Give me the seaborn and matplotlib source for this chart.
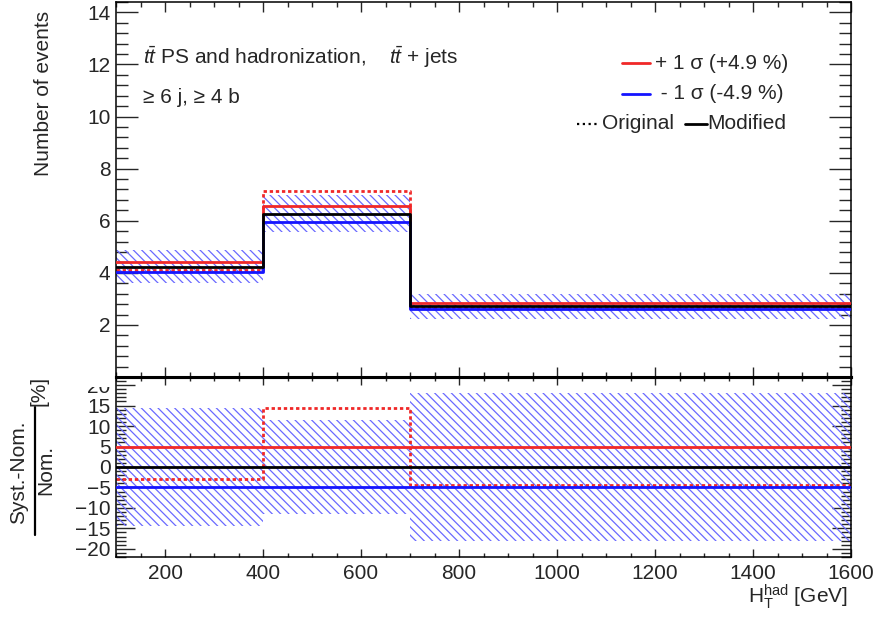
import matplotlib
matplotlib.use("Agg")
import matplotlib.pyplot as plt
from matplotlib.patches import Rectangle
import seaborn as sns

sns.set_theme(style="ticks")
plt.rcParams["font.family"] = ["Liberation Sans", "DejaVu Sans"]
plt.rcParams["mathtext.fontset"] = "custom"
plt.rcParams["mathtext.rm"] = "Liberation Sans"
plt.rcParams["mathtext.it"] = "Liberation Sans:italic"
plt.rcParams["mathtext.bf"] = "Liberation Sans:bold"
plt.rcParams["hatch.linewidth"] = 0.9

# binning in H_T^had [GeV]
bin_edges = [100, 400, 700, 1600]

# upper panel: number of events
nominal = [4.24, 6.27, 2.72]
sys_up = [4.40, 6.58, 2.83]
sys_down = [4.02, 5.97, 2.60]
original = [4.12, 7.16, 2.66]
band_low = [3.62, 5.56, 2.22]
band_high = [4.86, 7.00, 3.18]

# lower panel: (Syst. - Nom.) / Nom. in %
ratio_up = [4.9, 4.9, 4.9]
ratio_down = [-4.9, -4.9, -4.9]
ratio_nominal = [0.0, 0.0, 0.0]
ratio_original = [-3.0, 14.5, -4.3]
ratio_band = [14.5, 11.5, 18.0]

RED = "#f02828"
BLUE = "#1414ff"
HATCH = "#6a6aff"
FS = 15


def steps(vals):
    return list(vals) + [vals[-1]]


def draw_panel(ax, nom, up, down, orig, lo, hi):
    ax.fill_between(bin_edges, steps(lo), steps(hi), step="post",
                    facecolor="none", edgecolor=HATCH, linewidth=0,
                    hatch="\\\\\\\\", zorder=1)
    sns.lineplot(x=bin_edges, y=steps(orig), drawstyle="steps-post", color=RED,
                 lw=2, linestyle=(0, (1.2, 1.0)), estimator=None, ax=ax, zorder=2)
    sns.lineplot(x=bin_edges, y=steps(up), drawstyle="steps-post", color=RED,
                 lw=2, estimator=None, ax=ax, zorder=3)
    sns.lineplot(x=bin_edges, y=steps(down), drawstyle="steps-post", color=BLUE,
                 lw=2, estimator=None, ax=ax, zorder=3)
    sns.lineplot(x=bin_edges, y=steps(nom), drawstyle="steps-post", color="black",
                 lw=2, estimator=None, ax=ax, zorder=4)
    ax.set_xlim(100, 1600)
    ax.set_xlabel("")
    ax.set_ylabel("")
    for s in ax.spines.values():
        s.set_visible(True)
        s.set_linewidth(1.1)
        s.set_color("black")


fig = plt.figure(figsize=(8.77, 6.21), dpi=100)
ax_top = fig.add_axes([0.1323, 0.3929, 0.8381, 0.6039])
ax_bot = fig.add_axes([0.1323, 0.1031, 0.8381, 0.2899])
ax_top.set_zorder(2)

draw_panel(ax_top, nominal, sys_up, sys_down, original, band_low, band_high)
draw_panel(ax_bot, ratio_nominal, ratio_up, ratio_down, ratio_original,
           [-b for b in ratio_band], ratio_band)

# upper panel axes
ax_top.set_ylim(0, 14.4)
ax_top.set_yticks([2, 4, 6, 8, 10, 12, 14])
ax_top.set_yticks([i * 0.4 for i in range(37)], minor=True)
ax_top.set_xticks(range(200, 1601, 200))
ax_top.set_xticks(range(100, 1601, 50), minor=True)
ax_top.tick_params(axis="y", which="major", direction="in", length=16, width=1,
                   right=True, labelsize=FS, pad=4)
ax_top.tick_params(axis="y", which="minor", direction="in", length=8.5, width=1, right=True)
ax_top.tick_params(axis="x", which="major", direction="in", length=7, width=1,
                   top=True, labelbottom=False)
ax_top.tick_params(axis="x", which="minor", direction="in", length=3.6, width=1, top=True)
ax_top.spines["bottom"].set_linewidth(2.2)

# lower panel axes
ax_bot.set_ylim(-22, 22)
ax_bot.set_yticks(range(-20, 21, 5))
ax_bot.set_yticks(range(-22, 23), minor=True)
ax_bot.set_xticks(range(200, 1601, 200))
ax_bot.set_xticks(range(100, 1601, 50), minor=True)
ax_bot.tick_params(axis="y", which="major", direction="in", length=14, width=1,
                   right=True, labelsize=FS, pad=4)
ax_bot.tick_params(axis="y", which="minor", direction="in", length=7, width=1, right=True)
ax_bot.tick_params(axis="x", which="major", direction="in", length=6, width=1,
                   top=True, labelsize=FS, pad=5)
ax_bot.tick_params(axis="x", which="minor", direction="in", length=3, width=1, top=True)
ax_bot.spines["top"].set_linewidth(2.2)

# the "20" label is cut by the upper pad
fig.add_artist(Rectangle((80 / 877, 1 - 387 / 621), 34 / 877, 10 / 621,
                         transform=fig.transFigure, facecolor="white",
                         edgecolor="none", zorder=5))

# axis titles
fig.text(44 / 877, 1 - 93 / 621, "Number of events", rotation=90,
         ha="center", va="center", fontsize=FS)
fig.text(19 / 877, 1 - 472 / 621, "Syst.-Nom.", rotation=90,
         ha="center", va="center", fontsize=FS)
fig.text(46 / 877, 1 - 470 / 621, "Nom.", rotation=90,
         ha="center", va="center", fontsize=FS)
fig.text(39 / 877, 1 - 391 / 621, "[%]", rotation=90,
         ha="center", va="center", fontsize=FS)
fig.add_artist(plt.Line2D([35 / 877, 35 / 877], [1 - 535 / 621, 1 - 407 / 621],
                          color="black", lw=1.6, transform=fig.transFigure))
fig.text(848 / 877, 1 - 603 / 621, r"$\mathrm{H}_{\mathrm{T}}^{\mathrm{had}}$ [GeV]",
         ha="right", va="baseline", fontsize=FS)

# labels in upper panel
ax_top.text(0.037, 0.835, r"$t\bar{t}$ PS and hadronization,    $t\bar{t}$ + jets",
            transform=ax_top.transAxes, ha="left", va="baseline", fontsize=FS)
ax_top.text(0.037, 0.731, "≥ 6 j, ≥ 4 b",
            transform=ax_top.transAxes, ha="left", va="baseline", fontsize=FS)

# legend
tr = ax_top.transAxes
ax_top.plot([0.688, 0.727], [0.836, 0.836], color=RED, lw=2, transform=tr)
ax_top.text(0.733, 0.836, "+ 1 σ (+4.9 %)", transform=tr, ha="left", va="center", fontsize=FS)
ax_top.plot([0.688, 0.727], [0.755, 0.755], color=BLUE, lw=2, transform=tr)
ax_top.text(0.733, 0.755, " - 1 σ (-4.9 %)", transform=tr, ha="left", va="center", fontsize=FS)
ax_top.plot([0.627, 0.656], [0.675, 0.675], color="black", lw=1.6,
            linestyle=(0, (1, 1.6)), transform=tr)
ax_top.text(0.661, 0.675, "Original", transform=tr, ha="left", va="center", fontsize=FS)
ax_top.plot([0.774, 0.804], [0.675, 0.675], color="black", lw=2, transform=tr)
ax_top.text(0.805, 0.675, "Modified", transform=tr, ha="left", va="center", fontsize=FS)

fig.savefig("out.png", dpi=100)
